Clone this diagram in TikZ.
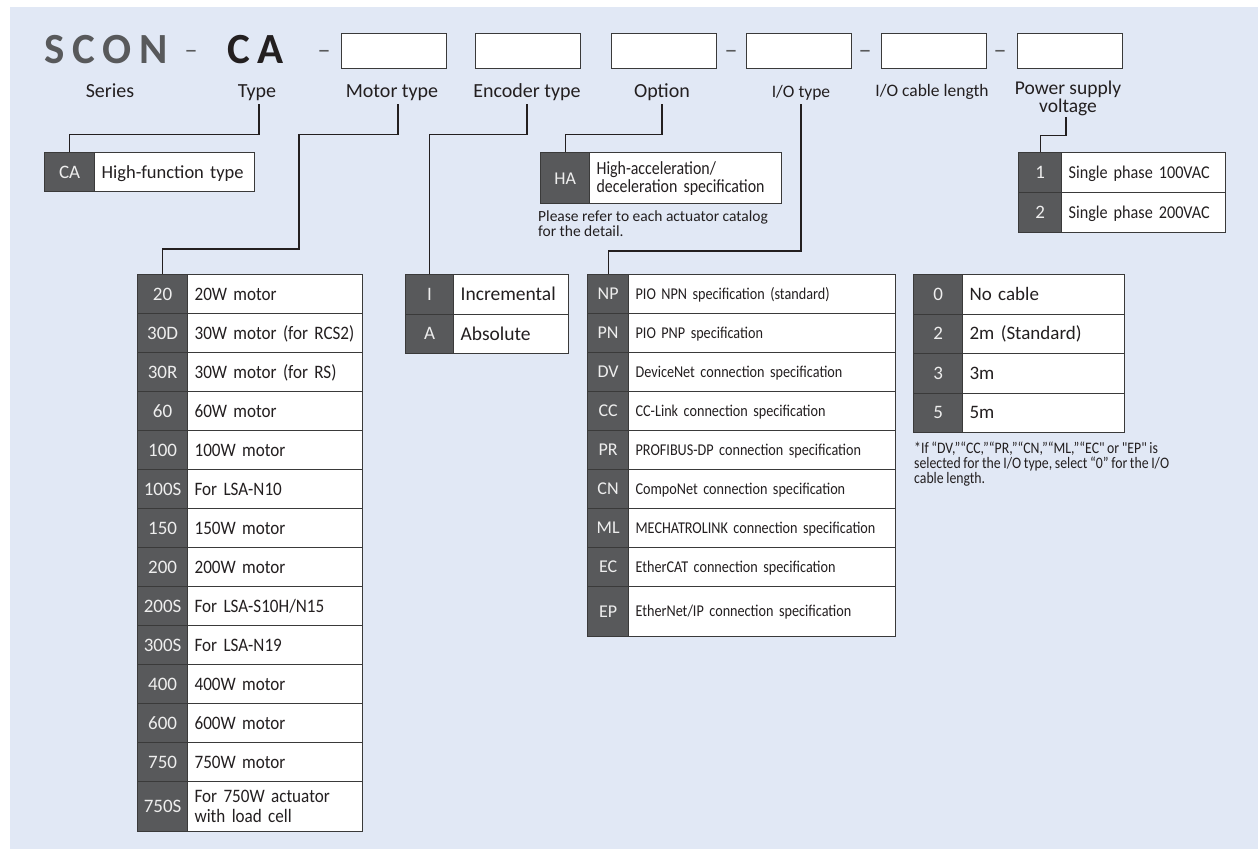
\documentclass[tikz,border=0pt]{standalone}
\usepackage{fontspec}
\setmainfont{Carlito}
\newfontfamily\condfont[FakeStretch=0.86, WordSpace=0.85]{Carlito}
\newfontfamily\narrowfont[FakeStretch=0.9, WordSpace=0.85]{Carlito}
\newfontfamily\headfont[LetterSpace=18]{Carlito}
\definecolor{panel}{HTML}{E1E8F5}
\definecolor{codefill}{HTML}{58595B}
\definecolor{codetext}{HTML}{EEEEEE}
\definecolor{linecol}{HTML}{3A3A3A}
\definecolor{ink}{HTML}{231F20}
\newcommand{\fsz}[2]{\fontsize{#1}{#2}\selectfont}

\begin{document}
\begin{tikzpicture}[x=1pt, y=-1pt,
  hbox/.style={draw=linecol, fill=white, line width=1.3pt, minimum width=105pt, minimum height=35pt, inner sep=0pt, anchor=north west},
  lbl/.style={inner sep=0pt, anchor=base, text=ink, font=\fsz{20}{22}},
  lblsm/.style={lbl, font=\fsz{17.5}{19}},
  dashmark/.style={inner sep=0pt, anchor=base, text=codefill, font=\fsz{26}{28}},
  code/.style={draw=linecol, fill=codefill, line width=1.2pt, text=codetext, inner sep=0pt, anchor=north west, font=\fsz{19}{21}, text height=12.2pt, text depth=0pt},
  descbox/.style={draw=linecol, fill=white, line width=1.2pt, text=ink, inner xsep=7pt, inner ysep=0pt, align=left, anchor=north west},
  desc/.style={descbox, font=\fsz{19}{21}, text height=12.2pt, text depth=0pt},
  leader/.style={draw=ink, line width=1.2pt},
  note/.style={inner sep=0pt, anchor=north west, align=left, text=ink, font=\fsz{15.5}{13}}
]
\useasboundingbox (0,0) rectangle (1258,849);
\fill[panel] (10,7) rectangle (1258,849);

% model code line
\node[anchor=base west, inner sep=0pt, text=codefill, font=\headfont\bfseries\fsz{43}{43}] (series) at (44,63) {SCON};
\node[anchor=base west, inner sep=0pt, text=ink, font=\headfont\bfseries\fsz{43}{43}] (type) at (227,63) {CA};
\foreach \x [count=\i] in {191,324,731,865,1000}
  \node[dashmark] (dash\i) at (\x,58) {–};
\foreach \x [count=\i] in {341,475,611,746,881,1017}
  \node[hbox] (box\i) at (\x,33) {};

% field names
\node[lbl] (lblSeries) at (110,97) {Series};
\node[lbl] (lblType) at (257,97) {Type};
\node[lbl] (lblMotor) at (392,97) {Motor type};
\node[lbl] (lblEnc) at (527,97) {Encoder type};
\node[lbl] (lblOpt) at (662,97) {Option};
\node[lblsm] (lblIO) at (801,97) {I/O type};
\node[lblsm] (lblCable) at (932,96) {I/O cable length};
\node[lbl, anchor=north, align=center, font=\fsz{19.5}{18}] (lblPow) at (1068,81) {Power supply\\voltage};

% type
\node[code, minimum width=50pt, minimum height=39pt] (caCode) at (44,152) {CA};
\node[desc, text width=146pt, minimum height=39pt, font=\fsz{18.5}{20}, text height=11.9pt] (caDesc) at (94,152) {High-function type};

% option
\node[code, minimum width=49pt, minimum height=51pt, font=\fsz{18}{20}] (haCode) at (540,152) {HA};
\node[descbox, text width=178pt, minimum height=51pt, font=\condfont\fsz{18.5}{18}] (haDesc) at (589,152) {High-acceleration/\\deceleration specification};
\node[note] (haNote) at (538,211) {Please refer to each actuator catalog\\for the detail.};

% power supply
\foreach \c/\t [count=\i from 0] in {1/Single phase 100VAC, 2/Single phase 200VAC} {
  \node[code, minimum width=43pt, minimum height=40pt] (powc\i) at (1018,152+40*\i) {\c};
  \node[desc, text width=150pt, minimum height=40pt, font=\narrowfont\fsz{18}{19}, text height=11.6pt] (powd\i) at (1061,152+40*\i) {\t};
}

% motor type
\foreach \c/\t [count=\i from 0] in {
  20/20W motor, 30D/30W motor (for RCS2), 30R/30W motor (for RS), 60/60W motor,
  100/100W motor, 100S/For LSA-N10, 150/150W motor, 200/200W motor,
  200S/{For LSA-S10H/N15}, 300S/For LSA-N19, 400/400W motor, 600/600W motor,
  750/750W motor} {
  \node[code, minimum width=50pt, minimum height=39pt] (motc\i) at (137,274+39*\i) {\c};
  \node[desc, text width=161pt, minimum height=39pt, font=\narrowfont\fsz{19}{21}] (motd\i) at (187,274+39*\i) {\t};
}
\node[code, minimum width=50pt, minimum height=50pt] (motc13) at (137,781) {750S};
\node[descbox, text width=161pt, minimum height=50pt, font=\narrowfont\fsz{19}{20}] (motd13) at (187,781) {For 750W actuator\\with load cell};

% encoder type
\foreach \c/\t [count=\i from 0] in {I/Incremental, A/Absolute} {
  \node[code, minimum width=48pt, minimum height=39.5pt] (encc\i) at (405,274+39.5*\i) {\c};
  \node[desc, text width=101pt, minimum height=39.5pt, font=\fsz{19.5}{21}, text height=12.5pt] (encd\i) at (453,274+39.5*\i) {\t};
}

% I/O type
\foreach \c/\t [count=\i from 0] in {
  NP/PIO NPN specification (standard), PN/PIO PNP specification,
  DV/DeviceNet connection specification, CC/CC-Link connection specification,
  PR/PROFIBUS-DP connection specification, CN/CompoNet connection specification,
  ML/MECHATROLINK connection specification, EC/EtherCAT connection specification} {
  \node[code, minimum width=41pt, minimum height=39pt, font=\fsz{18}{20}, text height=11.6pt] (npc\i) at (587,274+39*\i) {\c};
  \node[desc, text width=253pt, minimum height=39pt, font=\condfont\fsz{16.5}{18}, text height=10.6pt] (npd\i) at (628,274+39*\i) {\t};
}
\node[code, minimum width=41pt, minimum height=50pt, font=\fsz{18}{20}, text height=11.6pt] (npc8) at (587,586) {EP};
\node[desc, text width=253pt, minimum height=50pt, font=\condfont\fsz{16.5}{18}, text height=10.6pt] (npd8) at (628,586) {{EtherNet/IP connection specification}};

% cable length
\foreach \c/\t [count=\i from 0] in {0/No cable, 2/2m (Standard), 3/3m, 5/5m} {
  \node[code, minimum width=49pt, minimum height=39.5pt] (cabc\i) at (913,274+39.5*\i) {\c};
  \node[desc, text width=148pt, minimum height=39.5pt] (cabd\i) at (962,274+39.5*\i) {\t};
}
\node[note, font=\condfont\fsz{16}{12.5}] (cableNote) at (914,442) {*If “DV,”“CC,”“PR,”“CN,”“ML,”“EC" or "EP" is\\selected for the I/O type, select “0” for the I/O\\cable length.};

% leaders
\draw[leader] ([shift={(2pt,-4pt)}]lblType.south) -- ++(0,30) -| (caCode.north);
\draw[leader] ([shift={(6pt,-4pt)}]lblMotor.south) -- ++(0,30) -| (299,249) -| (motc0.north);
\draw[leader] ([yshift=-4pt]lblEnc.south) -- ++(0,30) -| (encc0.north);
\draw[leader] ([yshift=-4pt]lblOpt.south) -- ++(0,30) -| (haCode.north);
\draw[leader] ([yshift=-4pt]lblIO.south) -- ++(0,147) -| (npc0.north);
\draw[leader] ([shift={(-2pt,-1pt)}]lblPow.south) -- ++(0,18) -| (powc0.north);

\end{tikzpicture}
\end{document}
